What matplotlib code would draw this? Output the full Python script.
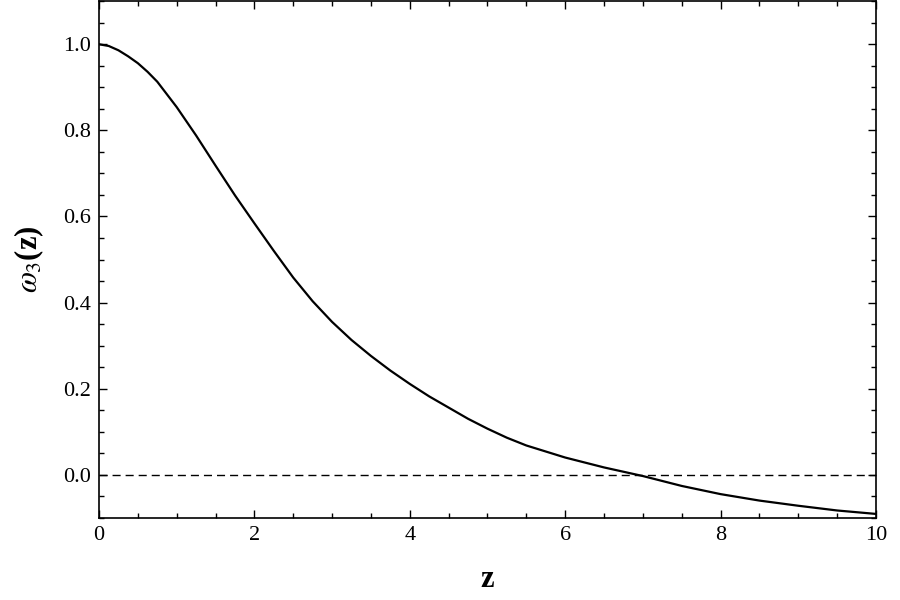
import matplotlib
matplotlib.use("Agg")
import matplotlib.pyplot as plt
from matplotlib.ticker import MultipleLocator

plt.rcParams.update({
    "font.family": "Liberation Serif",
    "mathtext.fontset": "stix",
    "font.size": 16,
})

# ── Data ──────────────────────────────────────────────────────────────────────
z = [0.0, 0.125, 0.25, 0.375, 0.5, 0.625, 0.75, 1.0, 1.25, 1.5, 1.75, 2.0,
     2.25, 2.5, 2.75, 3.0, 3.25, 3.5, 3.75, 4.0, 4.25, 4.5, 4.75, 5.0, 5.25,
     5.5, 6.0, 6.5, 7.0, 7.5, 8.0, 8.5, 9.0, 9.5, 10.0]
omega3 = [1.000, 0.996, 0.986, 0.972, 0.956, 0.936, 0.913, 0.854, 0.788,
          0.718, 0.649, 0.584, 0.520, 0.458, 0.403, 0.355, 0.313, 0.276,
          0.242, 0.211, 0.182, 0.156, 0.130, 0.107, 0.086, 0.068, 0.040,
          0.017, -0.003, -0.026, -0.045, -0.060, -0.072, -0.083, -0.091]
zero_level = 0.0

# ── Plot ──────────────────────────────────────────────────────────────────────
fig = plt.figure(figsize=(9, 6), dpi=100)
ax = fig.add_axes([0.110, 0.137, 0.8633, 0.861])

ax.plot(z, omega3, color="black", lw=1.6)
ax.axhline(zero_level, color="black", lw=1.0, dashes=(5.8, 3.6))

ax.set_xlim(0, 10)
ax.set_ylim(-0.1, 1.1)
ax.xaxis.set_major_locator(MultipleLocator(2))
ax.xaxis.set_minor_locator(MultipleLocator(0.5))
ax.yaxis.set_major_locator(MultipleLocator(0.2))
ax.yaxis.set_minor_locator(MultipleLocator(0.05))
ax.yaxis.set_major_formatter(plt.FuncFormatter(lambda v, p: f"{v:.1f}"))

ax.tick_params(which="both", direction="in", top=True, right=True, width=1.0,
               labelsize=16, pad=6)
ax.tick_params(which="major", length=6)
ax.tick_params(which="minor", length=3.6)
for s in ax.spines.values():
    s.set_linewidth(1.2)

ax.set_xlabel("z", fontsize=22, fontweight="bold", labelpad=14)
ax.set_ylabel(r"$\omega_3$(z)", fontsize=22, fontweight="bold", labelpad=12)

fig.savefig("out.png", dpi=100)
